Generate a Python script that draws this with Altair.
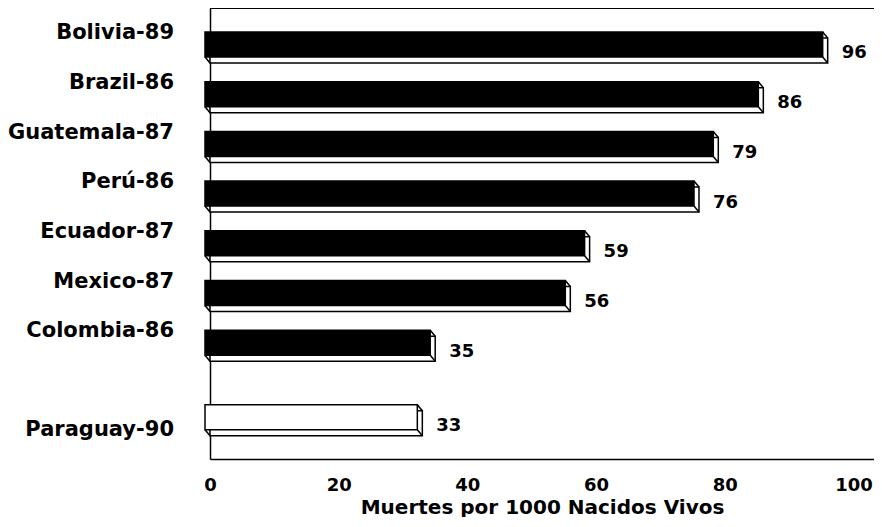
import altair as alt
import pandas as pd

paises = ["Bolivia-89", "Brazil-86", "Guatemala-87", "Perú-86",
          "Ecuador-87", "Mexico-87", "Colombia-86", "Paraguay-90"]
valores = [96, 86, 79, 76, 59, 56, 35, 33]
estudio = [False, False, False, False, False, False, False, True]
ticks_x = [0, 20, 40, 60, 80, 100]

df = pd.DataFrame({"pais": paises, "valor": valores, "estudio": estudio})

FONT = "DejaVu Sans"
W, H = 664, 451

base = alt.Chart(df).transform_window(
    idx="row_number()"
).transform_calculate(
    pos="datum.idx - 1 + (datum.estudio ? 0.5 : 0)",
    cero="0",
    lpos="datum.idx - 1 + (datum.estudio ? 0.64 : -0.35)",
)

xs = alt.Scale(domain=[0, 103.2], nice=False, zero=False)
ys = alt.Scale(domain=[-0.855, 8.219], nice=False, zero=False, reverse=True)

back = base.mark_rect(
    fill="white", stroke="black", strokeWidth=1.5,
    yOffset=-12.5, y2Offset=12.5,
).encode(
    x=alt.X("cero:Q", scale=xs,
            axis=alt.Axis(values=ticks_x, ticks=False, tickSize=0, grid=False,
                          domainColor="black", domainWidth=1.5,
                          labelFont=FONT, labelFontSize=18, labelFontWeight="bold",
                          labelColor="black", labelPadding=17, labelFlush=False,
                          title="Muertes por 1000 Nacidos Vivos",
                          titleFont=FONT, titleFontSize=20, titleFontWeight="bold",
                          titleColor="black", titleBaseline="alphabetic", titleY=54)),
    x2="valor:Q",
    y=alt.Y("pos:Q", scale=ys,
            axis=alt.Axis(labels=False, ticks=False, tickSize=0, grid=False, title=None,
                          domainColor="black", domainWidth=1.5)),
    y2="pos:Q",
)

front = base.mark_rect(
    stroke="black", strokeWidth=1.5,
    xOffset=-5, x2Offset=-5, yOffset=-18.5, y2Offset=6.5,
).encode(
    x="cero:Q", x2="valor:Q", y="pos:Q", y2="pos:Q",
    fill=alt.condition("datum.estudio", alt.value("white"), alt.value("black")),
)

def diag(xf, yo1, yo2):
    return base.mark_rule(
        color="black", strokeWidth=1.5,
        xOffset=-5, x2Offset=0, yOffset=yo1, y2Offset=yo2,
    ).encode(x=xf, x2=xf, y="pos:Q", y2="pos:Q")

d1 = diag("valor:Q", -18.5, -12.5)
d2 = diag("valor:Q", 6.5, 12.5)
d3 = diag("cero:Q", 6.5, 12.5)

valtext = base.mark_text(
    align="left", baseline="middle", dx=14, dy=3,
    font=FONT, fontSize=18, fontWeight="bold", color="black",
).encode(x="valor:Q", y="pos:Q", text="valor:Q")

labtext = base.mark_text(
    align="right", baseline="middle",
    font=FONT, fontSize=21, fontWeight="bold", color="black",
).encode(x=alt.value(-36), y="lpos:Q", text="pais:N")

top = alt.Chart(df).mark_rule(color="black", strokeWidth=1.5).encode(
    x=alt.value(0), x2=alt.value(W), y=alt.value(0)
)

chart = alt.layer(top, back, front, d1, d2, d3, valtext, labtext).properties(
    width=W, height=H,
    autosize=alt.AutoSizeParams(type="none"),
    padding={"left": 202, "top": 0, "right": 0, "bottom": 58},
).configure_view(stroke=None).configure(background="white")

chart.save("out.html", embed_options={"renderer": "svg", "actions": False})
